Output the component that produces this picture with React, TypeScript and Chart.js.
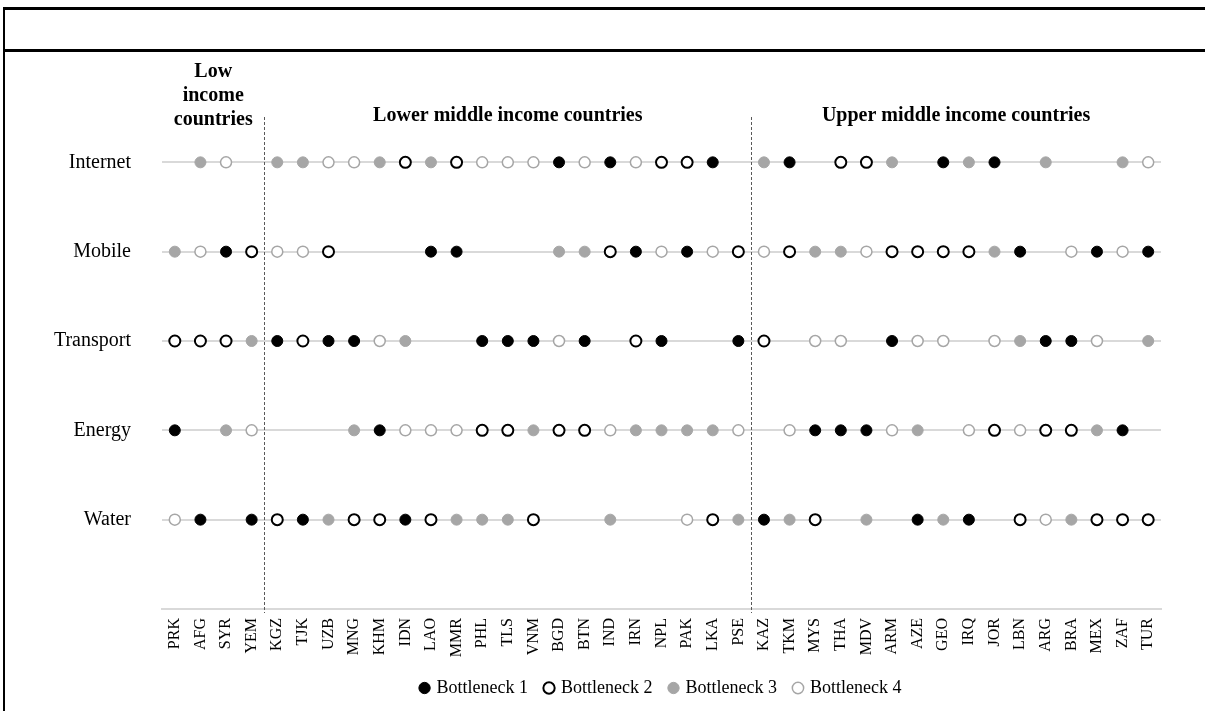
import React, { useEffect, useRef } from "react";
import { Chart, registerables } from "chart.js";
Chart.register(...registerables);

// ---------- DATA ----------
const countries = [
  "PRK", "AFG", "SYR", "YEM",
  "KGZ", "TJK", "UZB", "MNG", "KHM", "IDN", "LAO", "MMR", "PHL", "TLS", "VNM", "BGD", "BTN", "IND", "IRN", "NPL", "PAK", "LKA", "PSE",
  "KAZ", "TKM", "MYS", "THA", "MDV", "ARM", "AZE", "GEO", "IRQ", "JOR", "LBN", "ARG", "BRA", "MEX", "ZAF", "TUR",
];

// 0 = none, 1..4 = bottleneck rank
const internet = [0, 3, 4, 0, 3, 3, 4, 4, 3, 2, 3, 2, 4, 4, 4, 1, 4, 1, 4, 2, 2, 1, 0, 3, 1, 0, 2, 2, 3, 0, 1, 3, 1, 0, 3, 0, 0, 3, 4];
const mobile = [3, 4, 1, 2, 4, 4, 2, 0, 0, 0, 1, 1, 0, 0, 0, 3, 3, 2, 1, 4, 1, 4, 2, 4, 2, 3, 3, 4, 2, 2, 2, 2, 3, 1, 0, 4, 1, 4, 1];
const transport = [2, 2, 2, 3, 1, 2, 1, 1, 4, 3, 0, 0, 1, 1, 1, 4, 1, 0, 2, 1, 0, 0, 1, 2, 0, 4, 4, 0, 1, 4, 4, 0, 4, 3, 1, 1, 4, 0, 3];
const energy = [1, 0, 3, 4, 0, 0, 0, 3, 1, 4, 4, 4, 2, 2, 3, 2, 2, 4, 3, 3, 3, 3, 4, 0, 4, 1, 1, 1, 4, 3, 0, 4, 2, 4, 2, 2, 3, 1, 0];
const water = [4, 1, 0, 1, 2, 1, 3, 2, 2, 1, 2, 3, 3, 3, 2, 0, 0, 3, 0, 0, 4, 2, 3, 1, 3, 2, 0, 3, 0, 1, 3, 1, 0, 2, 4, 3, 2, 2, 2];

const rowNames = ["Water", "Energy", "Transport", "Mobile", "Internet"]; // y = 1..5
const rowValues = [water, energy, transport, mobile, internet];

const legendLabels = ["Bottleneck 1", "Bottleneck 2", "Bottleneck 3", "Bottleneck 4"];

const groupLabels = [["Low", "income", "countries"], ["Lower middle income countries"], ["Upper middle income countries"]];
const groupFirst = [0, 4, 23];
const groupLast = [3, 22, 38];

// ---------- STYLE ----------
const SERIF = '"Liberation Serif", "Times New Roman", serif';
const markerStyles = [
  { backgroundColor: "#000000", borderColor: "#000000", borderWidth: 1 },
  { backgroundColor: "#ffffff", borderColor: "#000000", borderWidth: 2 },
  { backgroundColor: "#a6a6a6", borderColor: "#a6a6a6", borderWidth: 1 },
  { backgroundColor: "#ffffff", borderColor: "#a6a6a6", borderWidth: 1.5 },
];

const overlayPlugin = {
  id: "overlay",
  afterDraw(chart: any) {
    const { ctx, chartArea } = chart;
    const x = chart.scales.x;
    ctx.save();
    // group headers
    ctx.font = `bold 20px ${SERIF}`;
    ctx.fillStyle = "#000";
    ctx.textAlign = "center";
    ctx.textBaseline = "middle";
    groupLabels.forEach((lines, gi) => {
      const cx = (x.getPixelForValue(groupFirst[gi]) + x.getPixelForValue(groupLast[gi])) / 2;
      const startY = lines.length > 1 ? 17 : 61;
      lines.forEach((ln, li) => ctx.fillText(ln, cx, startY + li * 24));
    });
    // dashed dividers between groups
    ctx.strokeStyle = "#595959";
    ctx.lineWidth = 1;
    ctx.setLineDash([3, 2]);
    for (let gi = 0; gi < groupFirst.length - 1; gi++) {
      const a = x.getPixelForValue(groupLast[gi]);
      const b = x.getPixelForValue(groupFirst[gi + 1]);
      const dx = Math.round((a + b) / 2) + 0.5;
      ctx.beginPath();
      ctx.moveTo(dx, 62);
      ctx.lineTo(dx, chartArea.bottom + 4);
      ctx.stroke();
    }
    ctx.restore();
  },
};

export default function App() {
  const ref = useRef<HTMLCanvasElement | null>(null);

  useEffect(() => {
    if (!ref.current) return;
    const datasets = legendLabels.map((label, k) => {
      const data: { x: string; y: number }[] = [];
      rowValues.forEach((vals, r) => {
        vals.forEach((v, i) => {
          if (v === k + 1) data.push({ x: countries[i], y: r + 1 });
        });
      });
      return {
        label,
        data,
        ...markerStyles[k],
        pointRadius: 5.5,
        pointHoverRadius: 5.5,
        showLine: false,
      };
    });

    const chart = new Chart(ref.current, {
      type: "scatter",
      data: { labels: countries, datasets } as any,
      options: {
        animation: false,
        responsive: true,
        maintainAspectRatio: false,
        layout: { padding: { top: 18, right: 44, left: 0, bottom: 4 } },
        plugins: {
          tooltip: { enabled: false },
          legend: {
            position: "bottom",
            fullSize: false,
            labels: {
              usePointStyle: true,
              pointStyle: "circle",
              boxWidth: 6,
              boxHeight: 8,
              padding: 18,
              color: "#000",
              font: { family: SERIF, size: 18 },
            },
          },
        },
        scales: {
          x: {
            type: "category",
            labels: countries,
            offset: true,
            afterFit: (s: any) => {
              s.height = 52;
              s.paddingLeft = 0;
              s.paddingRight = 0;
            },
            grid: { display: false, drawTicks: false },
            border: { display: true, color: "#d9d9d9", width: 2 },
            ticks: {
              autoSkip: false,
              minRotation: 90,
              maxRotation: 90,
              padding: 9,
              color: "#000",
              font: { family: SERIF, size: 16 },
            },
          },
          y: {
            type: "linear",
            min: 0,
            max: 6,
            afterFit: (s: any) => {
              s.width = 162;
              s.paddingTop = 0;
              s.paddingBottom = 0;
            },
            afterBuildTicks: (s: any) => {
              s.ticks = [0, 1, 2, 3, 4, 5, 6].map((v) => ({ value: v }));
            },
            grid: {
              drawTicks: false,
              lineWidth: 2,
              color: (c: any) => (c.tick && c.tick.value >= 1 && c.tick.value <= 5 ? "#d9d9d9" : "rgba(0,0,0,0)"),
            },
            border: { display: false },
            ticks: {
              padding: 31,
              color: "#000",
              font: { family: SERIF, size: 20 },
              callback: (v: any) => rowNames[Number(v) - 1] ?? "",
            },
          },
        },
      },
      plugins: [overlayPlugin],
    });
    return () => chart.destroy();
  }, []);

  return (
    <div style={{ position: "fixed", left: 0, top: 0, width: 1205, height: 711, background: "#fff", overflow: "hidden" }}>
      <div style={{ position: "absolute", left: 3, top: 7, width: 1202, height: 3, background: "#000" }} />
      <div style={{ position: "absolute", left: 3, top: 49, width: 1202, height: 3, background: "#000" }} />
      <div style={{ position: "absolute", left: 3, top: 7, width: 2, height: 704, background: "#000" }} />
      <div style={{ position: "absolute", left: 0, top: 55, width: 1205, height: 656 }}>
        <canvas ref={ref} />
      </div>
    </div>
  );
}
